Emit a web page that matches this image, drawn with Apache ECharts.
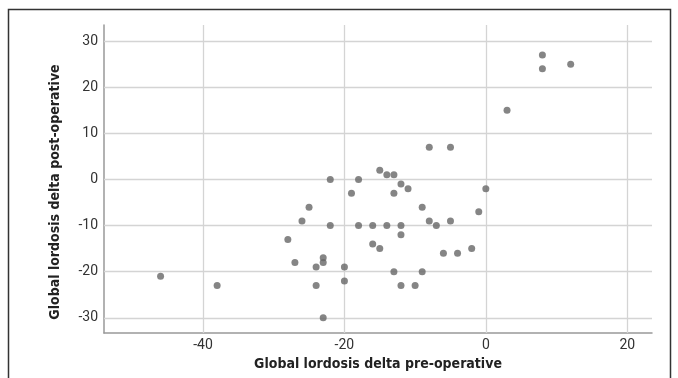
<!DOCTYPE html>
<html>
<head>
<meta charset="utf-8">
<script src="https://cdn.jsdelivr.net/npm/echarts@6/dist/echarts.min.js"></script>
<style>html,body{margin:0;padding:0;background:#fff}#c{width:678px;height:378px}</style>
</head>
<body>
<div id="c"></div>
<script>
var preOp = [-46,-38,-28,-27,-26,-25,-24,-24,-23,-23,-23,-22,-22,-20,-20,-19,-18,-18,-16,-16,-15,-15,-14,-14,-13,-13,-13,-12,-12,-12,-12,-11,-10,-9,-9,-8,-8,-7,-6,-5,-5,-4,-2,-1,0,3,8,8,12];
var postOp = [-21,-23,-13,-18,-9,-6,-19,-23,-17,-18,-30,0,-10,-19,-22,-3,0,-10,-10,-14,2,-15,1,-10,1,-3,-20,-1,-10,-12,-23,-2,-23,-6,-20,7,-9,-10,-16,7,-9,-16,-15,-7,-2,15,27,24,25];
var xTicks = [-40,-20,0,20];
var yTicks = [-30,-20,-10,0,10,20,30];
var xTitle = 'Global lordosis delta pre-operative';
var yTitle = 'Global lordosis delta post-operative';

var pts = preOp.map(function(x,i){return [x, postOp[i]];});
var gridLines = xTicks.map(function(v){return {xAxis:v};}).concat(yTicks.map(function(v){return {yAxis:v};}));
var fontLab = "Roboto,'Liberation Sans',sans-serif";
var fontTitle = "'DejaVu Sans Condensed','DejaVu Sans',sans-serif";

var chart = echarts.init(document.getElementById('c'));
chart.setOption({
  animation:false,
  grid:{left:104,right:26,top:25,bottom:45,containLabel:false},
  xAxis:{type:'value',min:-54,max:23.5,
    name:xTitle,nameLocation:'middle',nameGap:24,
    nameTextStyle:{fontFamily:fontTitle,fontWeight:'bold',fontSize:14,color:'#222'},
    axisLine:{show:true,onZero:false,lineStyle:{color:'#999',width:1.5}},
    axisTick:{show:false,customValues:xTicks},
    axisLabel:{customValues:xTicks,fontFamily:fontLab,fontSize:14,color:'#333',margin:5},
    splitLine:{show:false}},
  yAxis:{type:'value',min:-33.3,max:33.5,
    name:yTitle,nameLocation:'middle',nameGap:42,
    nameTextStyle:{fontFamily:fontTitle,fontWeight:'bold',fontSize:14,color:'#222',padding:[0,26,0,0]},
    axisLine:{show:true,onZero:false,lineStyle:{color:'#999',width:1.5}},
    axisTick:{show:false,customValues:yTicks},
    axisLabel:{customValues:yTicks,fontFamily:fontLab,fontSize:14,color:'#333',margin:6},
    splitLine:{show:false}},
  graphic:[{type:'rect',shape:{x:8.5,y:9.5,width:662,height:400},style:{fill:'none',stroke:'#333',lineWidth:1.5},silent:true}],
  series:[{type:'scatter',data:pts,symbolSize:7,itemStyle:{color:'#666'},z:5,
    markLine:{silent:true,symbol:'none',label:{show:false},animation:false,
      lineStyle:{color:'#d4d4d4',width:1.3,type:'solid'},data:gridLines,z:1}}]
});
</script>
</body>
</html>
